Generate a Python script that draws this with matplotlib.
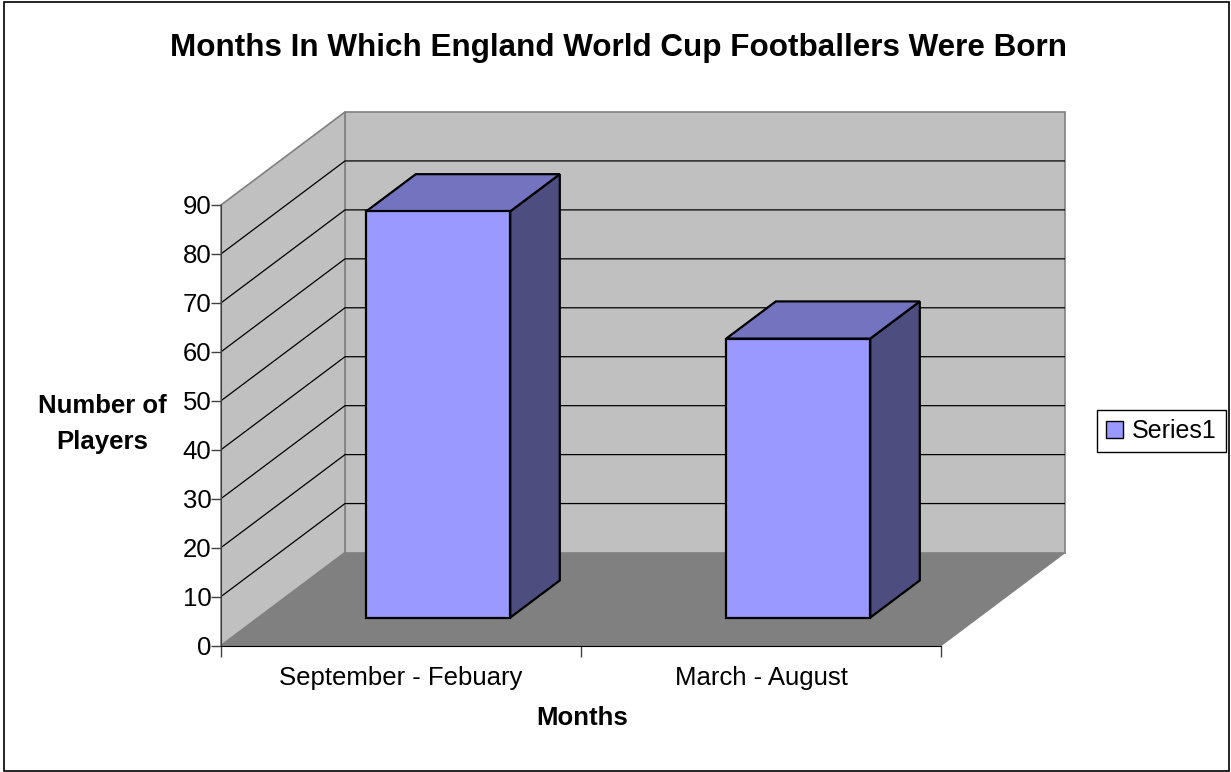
"""3D-style column chart of England World Cup footballers' birth months."""

import matplotlib

matplotlib.use("Agg")
import matplotlib.pyplot as plt
from matplotlib.patches import Patch, Polygon, Rectangle

categories = ["September - Febuary", "March - August"]
players = [83, 57]
y_ticks = [0, 10, 20, 30, 40, 50, 60, 70, 80, 90]
series_name = "Series1"

plt.rcParams["font.family"] = ["Liberation Sans", "DejaVu Sans"]

W, H = 1231, 772
# oblique depth offset of the back wall, in data units
DX = 124 / 360
DY = 19.0
YMAX = 90
BAR_W = (0.3, 0.7)   # bar span within a category
BAR_D = (0.3, 0.7)   # bar span along the depth

WALL = "#C0C0C0"
FLOOR = "#808080"
EDGE = "#808080"
FRONT = "#9999FF"
TOP = "#7373BF"
SIDE = "#4D4D80"

fig = plt.figure(figsize=(W / 100, H / 100), dpi=100)
fig.patches.append(Rectangle((4 / W, 1 / H), 1225 / W, 769 / H, transform=fig.transFigure,
                             fill=False, edgecolor="black", linewidth=1.2))

n = len(categories)
x0_px, y0_px = 221, 645.5
ax = fig.add_axes([x0_px / W, (H - y0_px) / H, 844 / W, 533.5 / H])
ax.set_xlim(0, n + DX)
ax.set_ylim(0, YMAX + DY)
ax.patch.set_visible(False)


def proj(x, y, d):
    return (x + d * DX, y + d * DY)


# walls and floor
floor = [proj(0, 0, 0), proj(n, 0, 0), proj(n, 0, 1), proj(0, 0, 1)]
back = [proj(0, 0, 1), proj(n, 0, 1), proj(n, YMAX, 1), proj(0, YMAX, 1)]
side = [proj(0, 0, 0), proj(0, 0, 1), proj(0, YMAX, 1), proj(0, YMAX, 0)]
ax.add_patch(Polygon(floor, closed=True, facecolor=FLOOR, edgecolor=EDGE, lw=1, clip_on=False))
ax.add_patch(Polygon(back, closed=True, facecolor=WALL, edgecolor=EDGE, lw=1.2, clip_on=False))
ax.add_patch(Polygon(side, closed=True, facecolor=WALL, edgecolor=EDGE, lw=1.2, clip_on=False))

# gridlines on the back and side walls
for v in y_ticks[1:-1]:
    p0, p1, p2 = proj(0, v, 0), proj(0, v, 1), proj(n, v, 1)
    ax.plot([p0[0], p1[0], p2[0]], [p0[1], p1[1], p2[1]], color="black", lw=0.9,
            solid_joinstyle="miter", zorder=2)

# bars
for i, v in enumerate(players):
    xa, xb = i + BAR_W[0], i + BAR_W[1]
    da, db = BAR_D
    front = [proj(xa, 0, da), proj(xb, 0, da), proj(xb, v, da), proj(xa, v, da)]
    top = [proj(xa, v, da), proj(xb, v, da), proj(xb, v, db), proj(xa, v, db)]
    right = [proj(xb, 0, da), proj(xb, 0, db), proj(xb, v, db), proj(xb, v, da)]
    for pts, c in ((right, SIDE), (top, TOP), (front, FRONT)):
        ax.add_patch(Polygon(pts, closed=True, facecolor=c, edgecolor="black", lw=1.6,
                             joinstyle="miter", zorder=3))

# axes
for s in ("top", "right"):
    ax.spines[s].set_visible(False)
ax.spines["left"].set_bounds(0, YMAX)
ax.spines["bottom"].set_bounds(0, n)
ax.spines["left"].set_color("#404040")
ax.spines["left"].set_zorder(4)
ax.spines["bottom"].set_zorder(4)
ax.set_yticks(y_ticks)
ax.set_yticklabels([str(t) for t in y_ticks], fontsize=18.5)
ax.tick_params(axis="y", direction="out", length=7, width=1, color="#404040", pad=0)
ax.set_xticks(range(n + 1))
ax.set_xticklabels([])
ax.tick_params(axis="x", which="major", direction="out", length=8, width=1, color="#404040")
ax.set_xticks([i + 0.5 for i in range(n)], minor=True)
ax.set_xticklabels(categories, minor=True, fontsize=18.5)
ax.tick_params(axis="x", which="minor", length=0, pad=15)

fig.text(619 / W, 1 - 48 / H, "Months In Which England World Cup Footballers Were Born",
         ha="center", va="center", fontsize=22.6, fontweight="bold")
fig.text(582 / W, 1 - 718 / H, "Months", ha="center", va="center", fontsize=18.5,
         fontweight="bold")
fig.text(102 / W, 1 - 424 / H, "Number of\nPlayers", ha="center", va="center", fontsize=18.5,
         fontweight="bold", linespacing=1.6)

fig.legend(handles=[Patch(facecolor=FRONT, edgecolor="black", label=series_name)],
           loc="center left", bbox_to_anchor=(1097 / W, 1 - 431 / H), fontsize=18,
           frameon=True, fancybox=False, edgecolor="black", framealpha=1,
           handlelength=0.7, handleheight=0.7, handletextpad=0.35, borderpad=0.35,
           borderaxespad=0)

fig.savefig("out.png", dpi=100)
